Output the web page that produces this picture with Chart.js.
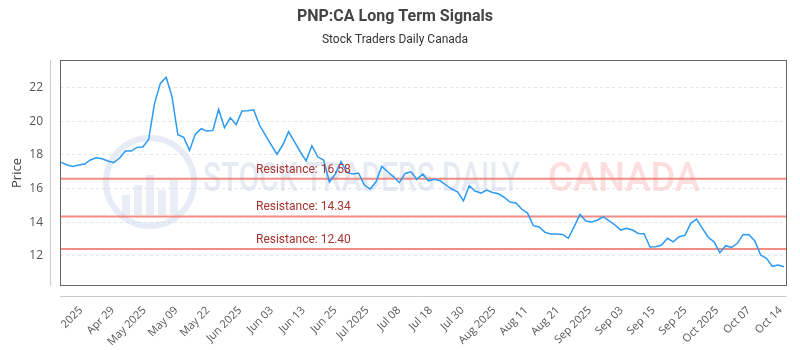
<!DOCTYPE html>
<html><head><meta charset="utf-8">
<script src="https://cdn.jsdelivr.net/npm/chart.js@4/dist/chart.umd.min.js"></script>
<style>html,body{margin:0;padding:0;background:#fff}#wrap{width:800px;height:350px}</style>
</head><body><div id="wrap"><canvas id="c" width="800" height="350"></canvas></div>
<script>
// ---- data ----
const prices = [
 17.56,17.40,17.32,17.40,17.46,17.70,17.83,17.77,17.64,17.54,
 17.82,18.23,18.23,18.45,18.47,18.93,21.07,22.26,22.62,21.46,
 19.20,19.05,18.27,19.24,19.56,19.42,19.46,20.71,19.62,20.21,
 19.80,20.61,20.63,20.69,19.78,19.20,18.61,18.04,18.59,19.38,
 18.79,18.19,17.65,18.55,17.89,17.70,16.39,16.86,17.60,16.96,
 16.86,16.92,16.21,15.97,16.40,17.32,17.00,16.70,16.35,16.90,
 17.00,16.55,16.86,16.46,16.55,16.46,16.21,15.97,15.81,15.27,
 16.17,15.85,15.73,15.91,15.77,15.69,15.48,15.20,15.14,14.78,
 14.54,13.79,13.71,13.39,13.29,13.29,13.27,13.04,13.73,14.46,
 14.07,14.01,14.13,14.32,14.08,13.83,13.53,13.63,13.53,13.33,
 13.31,12.52,12.54,12.64,13.04,12.83,13.13,13.21,13.93,14.18,
 13.63,13.10,12.83,12.18,12.60,12.50,12.74,13.27,13.25,12.88,
 12.04,11.85,11.37,11.45,11.35
];
const tickLabels = ["2025","Apr 29","May 2025","May 09","May 22","Jun 2025","Jun 03","Jun 13","Jun 25","Jul 2025","Jul 08","Jul 18","Jul 30","Aug 2025","Aug 11","Aug 21","Sep 2025","Sep 03","Sep 15","Sep 25","Oct 2025","Oct 07","Oct 14"];
const resistanceLevels = [16.58, 14.34, 12.40];
const yTickValues = [12, 14, 16, 18, 20, 22];

// ---- layout constants ----
const X_MIN = -0.22, X_MAX = 124.46;
const TICK_START = 3.36, TICK_STEP = 5.457;

const priceData = prices.map((v, i) => ({x: i, y: v}));
const resistanceSets = resistanceLevels.map(l => ({
  label: 'Resistance: ' + l.toFixed(2),
  data: [{x: X_MIN, y: l}, {x: X_MAX, y: l}],
  borderColor: 'rgba(240,120,110,0.85)',
  borderWidth: 2,
  pointRadius: 0
}));

const frame = {
  id: 'frame',
  beforeDatasetsDraw(chart) {
    const {ctx} = chart;
    ctx.save();
    // watermark logo
    ctx.strokeStyle = 'rgba(205,215,235,0.5)';
    ctx.lineWidth = 6;
    ctx.beginPath(); ctx.arc(150, 182, 44, 0, Math.PI * 2); ctx.stroke();
    ctx.fillStyle = 'rgba(205,215,235,0.45)';
    [[122, 195, 8, 20], [134, 185, 8, 30], [146, 175, 8, 40], [158, 190, 8, 25], [170, 180, 8, 35]].forEach(b => ctx.fillRect(b[0], b[1], b[2], b[3]));
    // watermark text
    ctx.font = '500 40px Roboto, sans-serif';
    ctx.textBaseline = 'middle';
    ctx.textAlign = 'left';
    ctx.fillStyle = 'rgba(200,210,228,0.45)';
    ctx.fillText('STOCK TRADERS DAILY', 203, 181, 317);
    ctx.fillStyle = 'rgba(250,190,190,0.5)';
    ctx.fillText('CANADA', 548, 181, 152);
    ctx.restore();
  },
  afterDatasetsDraw(chart) {
    const {ctx, chartArea: a, scales: {y}} = chart;
    ctx.save();
    ctx.font = '12px Roboto, sans-serif';
    ctx.fillStyle = '#a8322d';
    ctx.textBaseline = 'middle';
    ctx.textAlign = 'left';
    resistanceLevels.forEach(l => {
      ctx.fillText('Resistance: ' + l.toFixed(2), 256, y.getPixelForValue(l) - 9);
    });
    // plot box
    ctx.strokeStyle = '#666';
    ctx.lineWidth = 1;
    ctx.strokeRect(Math.round(a.left) + 0.5, Math.round(a.top) + 0.5, Math.round(a.right - a.left) - 1, Math.round(a.bottom - a.top) - 1);
    // offset axis lines
    ctx.strokeStyle = '#ccc';
    ctx.beginPath();
    ctx.moveTo(50.5, a.top); ctx.lineTo(50.5, a.bottom);
    ctx.moveTo(a.left, Math.round(a.bottom) + 10.5); ctx.lineTo(a.right, Math.round(a.bottom) + 10.5);
    ctx.stroke();
    ctx.restore();
  }
};

new Chart(document.getElementById('c'), {
  type: 'line',
  data: {
    datasets: [{
      label: 'Price',
      data: priceData,
      borderColor: '#2b9af3',
      borderWidth: 1.5,
      pointRadius: 0,
      tension: 0
    }, ...resistanceSets]
  },
  options: {
    responsive: false,
    animation: false,
    devicePixelRatio: 1,
    layout: {padding: {left: 0, right: 10, top: 0, bottom: 0}},
    plugins: {
      legend: {display: false},
      tooltip: {enabled: false},
      title: {
        display: true,
        text: 'PNP:CA Long Term Signals',
        color: '#444',
        font: {family: 'Roboto, sans-serif', size: 16, weight: 'bold'},
        padding: {top: 7, bottom: 6.6}
      },
      subtitle: {
        display: true,
        text: 'Stock Traders Daily Canada',
        color: '#333',
        font: {family: 'Roboto, sans-serif', size: 12},
        padding: {top: 0, bottom: 12.8}
      }
    },
    scales: {
      x: {
        type: 'linear',
        min: X_MIN,
        max: X_MAX,
        afterBuildTicks: s => { s.ticks = tickLabels.map((_, j) => ({value: TICK_START + j * TICK_STEP})); },
        afterFit: s => { s.height = 64; },
        grid: {display: false},
        border: {display: false},
        ticks: {
          autoSkip: false,
          minRotation: 45,
          maxRotation: 45,
          padding: 10,
          color: '#555',
          font: {family: '"Open Sans", sans-serif', size: 11},
          callback: (v, i) => tickLabels[i]
        }
      },
      y: {
        type: 'linear',
        min: 10.2,
        max: 23.65,
        afterBuildTicks: s => { s.ticks = yTickValues.map(v => ({value: v})); },
        afterFit: s => { s.width = 60; },
        grid: {color: '#e4e4e4', drawTicks: false},
        border: {display: false, dash: [3, 3]},
        ticks: {
          padding: 17,
          color: '#555',
          font: {family: '"Open Sans", sans-serif', size: 12}
        },
        title: {
          display: true,
          text: 'Price',
          color: '#444',
          font: {family: '"Open Sans", sans-serif', size: 13},
          padding: {top: 9, bottom: 0}
        }
      }
    }
  },
  plugins: [frame]
});
</script>
</body></html>
